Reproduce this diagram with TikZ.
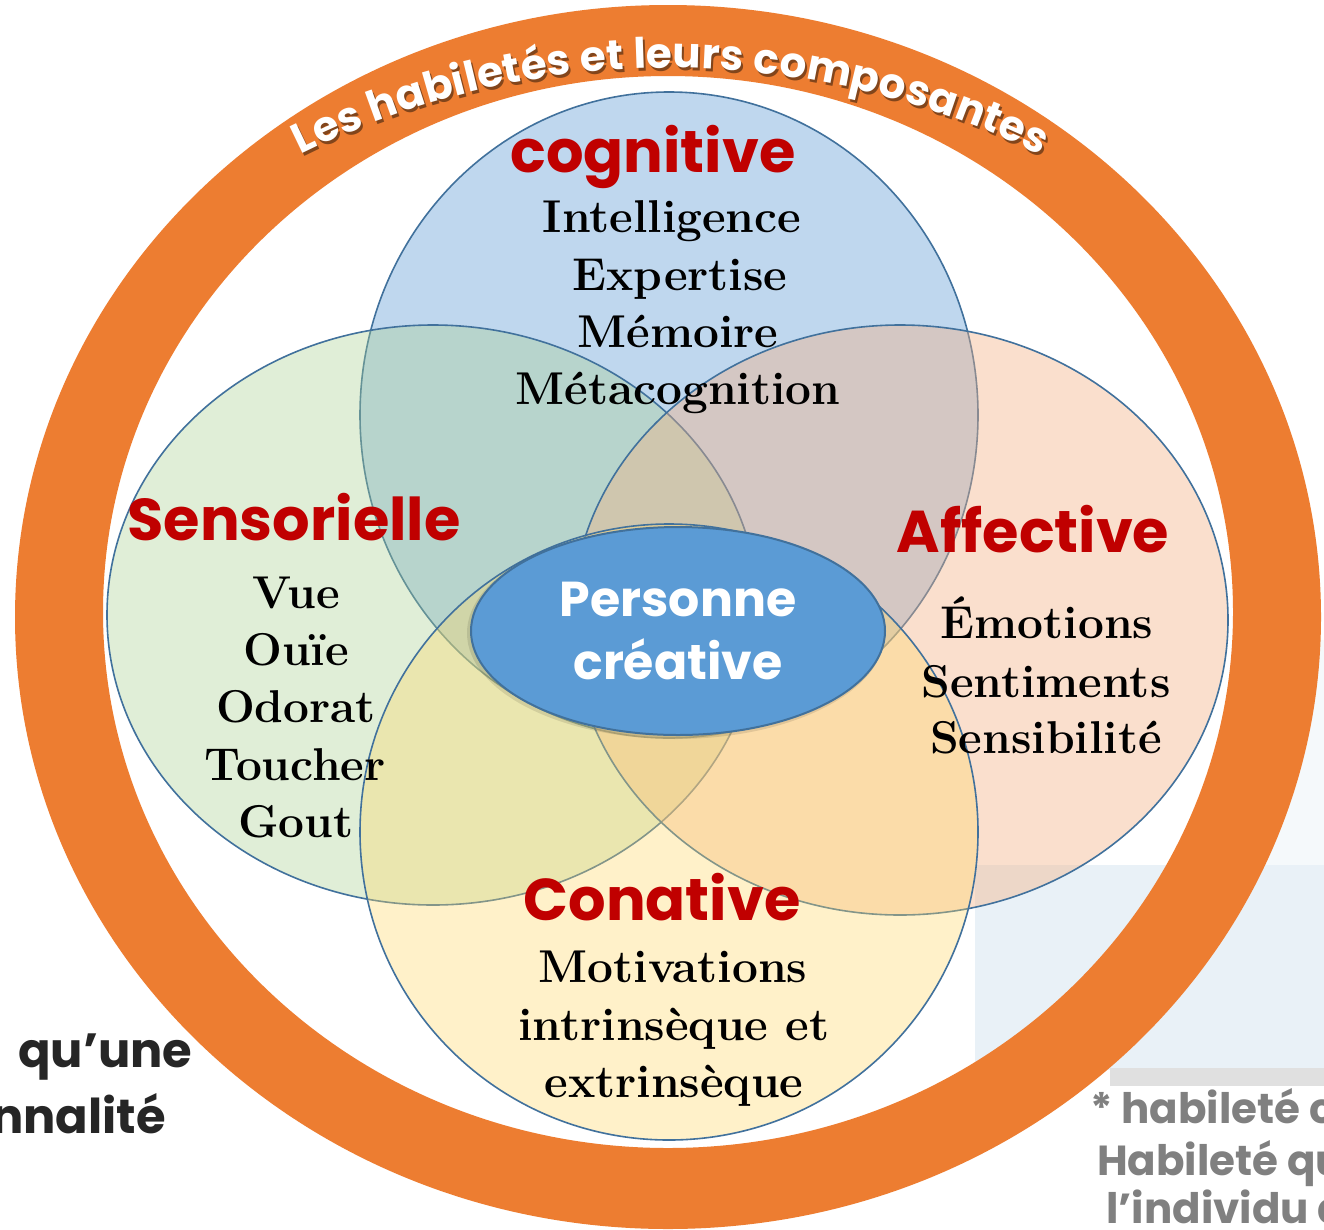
\documentclass[tikz,border=0pt]{standalone}
\usepackage{fontspec}
\newfontfamily\gothic{Poppins}
\usetikzlibrary{shapes.geometric,decorations.text}

\definecolor{ringorange}{HTML}{ED7D31}
\definecolor{vennline}{HTML}{41719C}
\definecolor{titlered}{HTML}{C00000}
\definecolor{centreblue}{HTML}{5B9BD5}
\definecolor{cogfill}{HTML}{9DC3E6}
\definecolor{sensfill}{HTML}{A9D18E}
\definecolor{afffill}{HTML}{F4B183}
\definecolor{conafill}{HTML}{FFD966}
\definecolor{slideblue}{HTML}{E2EDF4}
\definecolor{slidegrey}{HTML}{808080}
\definecolor{slideink}{HTML}{262626}

\tikzstyle{venn} = [draw=vennline, line width=1.6pt, ellipse, inner sep=0pt]
\tikzstyle{heading} = [font=\gothic\bfseries\fontsize{59}{59}\selectfont,
    text=titlered, anchor=base, inner sep=0pt]
\tikzstyle{entry} = [font=\bfseries\fontsize{46}{57}\selectfont,
    anchor=base, inner sep=0pt]
\tikzstyle{slidetext} = [font=\gothic\bfseries\fontsize{42}{42}\selectfont,
    text=slidegrey, anchor=base west, inner sep=0pt]

\begin{document}
\begin{tikzpicture}[x=1pt, y=-1pt]
    \useasboundingbox (0,0) rectangle (1324,1229);
    \clip (0,0) rectangle (1324,1229);
    \fill[white] (0,0) rectangle (1324,1229);

    % faded slide behind the diagram
    \fill[slideblue!35] (1240,640) rectangle (1324,865);
    \fill[slideblue!75] (975,865) rectangle (1324,1070);
    \fill[black!12] (1110,1068) rectangle (1324,1086);
    \node[slidetext, text=slideink, font=\gothic\bfseries\fontsize{48}{48}\selectfont] (quune) at (18,1067) {qu’une};
    \node[slidetext, text=slideink, font=\gothic\bfseries\fontsize{48}{48}\selectfont, anchor=base east] (nnalite) at (166,1133) {nnalité};
    \node[slidetext] (habc) at (1090,1123) {* habileté c};
    \node[slidetext] (habqu) at (1097,1175) {Habileté qu};
    \node[slidetext] (indiv) at (1106,1223) {l’individu à};

    % outer ring and its title
    \fill[ringorange, even odd rule] (668,617) ellipse [x radius=653, y radius=612]
        (668,612) ellipse [x radius=565, y radius=536];
    \path[decorate, decoration={text along path, text align=fit to path,
        text color=ringorange!55!black,
        text={|\gothic\bfseries\fontsize{42}{42}\selectfont|Les habiletés et leurs composantes}}]
        (672,901) ++(-116.4:830) arc[start angle=-116.4, end angle=-63.5, radius=830];
    \path[decorate, decoration={text along path, text align=fit to path,
        text color=white,
        text={|\gothic\bfseries\fontsize{42}{42}\selectfont|Les habiletés et leurs composantes}}]
        (670,898) ++(-116.4:830) arc[start angle=-116.4, end angle=-63.5, radius=830];

    % the four abilities
    \node[venn, fill=cogfill, fill opacity=0.65, minimum width=618pt, minimum height=646pt] (cogring) at (669,415) {};
    \node[venn, fill=sensfill, fill opacity=0.35, minimum width=652pt, minimum height=580pt] (sensring) at (433,615) {};
    \node[venn, fill=afffill, fill opacity=0.4, minimum width=656pt, minimum height=590pt] (affring) at (900,620) {};
    \node[venn, fill=conafill, fill opacity=0.35, minimum width=618pt, minimum height=616pt] (conaring) at (669,832) {};

    % centre
    \fill[black, opacity=0.1] (676,633) ellipse [x radius=209, y radius=106];
    \node[venn, fill=centreblue, line width=2pt, minimum width=414pt, minimum height=208pt,
        text=white, align=center, font=\gothic\bfseries\fontsize{49}{63}\selectfont] (personne) at (678,631)
        {Personne\\créative};

    \node[heading] (cogtitle) at (653,172) {cognitive};
    \node[entry] (intel) at (672,232) {Intelligence};
    \node[entry] (expert) at (680,290) {Expertise};
    \node[entry] (memoire) at (678,347) {Mémoire};
    \node[entry] (meta) at (678,404) {Métacognition};

    \node[heading] (senstitle) at (294,540) {Sensorielle};
    \node[entry] (vue) at (296,608) {Vue};
    \node[entry] (ouie) at (296,665) {Ouïe};
    \node[entry] (odorat) at (296,722) {Odorat};
    \node[entry] (toucher) at (295,780) {Toucher};
    \node[entry] (gout) at (296,837) {Gout};

    \node[heading] (afftitle) at (1033,552) {Affective};
    \node[entry] (emotions) at (1047,638) {Émotions};
    \node[entry] (sentiments) at (1046,697) {Sentiments};
    \node[entry] (sensib) at (1046,753) {Sensibilité};

    \node[heading] (conatitle) at (662,920) {Conative};
    \node[entry] (motiv) at (673,982) {Motivations};
    \node[entry] (intrins) at (674,1040) {intrinsèque et};
    \node[entry] (extrins) at (674,1097) {extrinsèque};
\end{tikzpicture}
\end{document}
